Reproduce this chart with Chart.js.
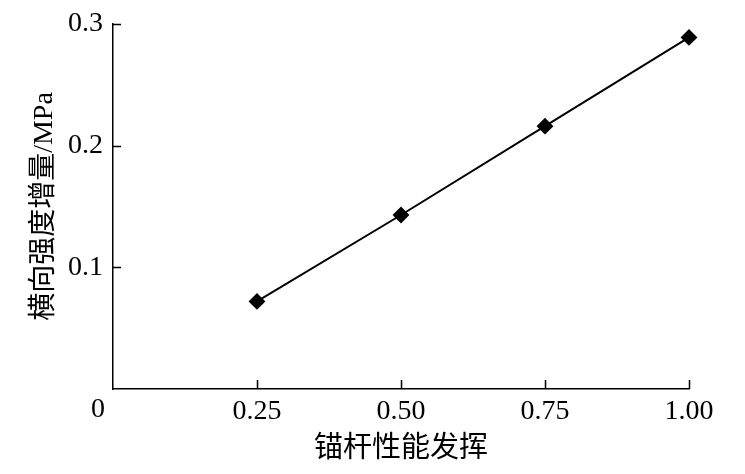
<!DOCTYPE html>
<html>
<head>
<meta charset="utf-8">
<script src="https://cdn.jsdelivr.net/npm/chart.js@4/dist/chart.umd.min.js"></script>
<style>
  html, body { margin: 0; padding: 0; background: #fff; }
  #wrap { width: 745px; height: 474px; }
</style>
</head>
<body>
<div id="wrap"><canvas id="chart"></canvas></div>
<script>
const xValues = [0.25, 0.50, 0.75, 1.00];
const yValues = [0.072, 0.143, 0.216, 0.289];
const xTicks = [0.25, 0.50, 0.75, 1.00];
const yTicks = [0.1, 0.2, 0.3];
const xTitle = '锚杆性能发挥';
const yTitle = '横向强度增量/MPa';

const fontFamily = '"Liberation Serif", "Noto Sans CJK SC", serif';

// inward tick marks and the shared "0" at the origin
const inwardTicks = {
    id: 'inwardTicks',
    afterDraw(chart) {
        const ctx = chart.ctx;
        const x = chart.scales.x;
        const y = chart.scales.y;
        const area = chart.chartArea;
        ctx.save();
        ctx.strokeStyle = '#000';
        ctx.lineWidth = 1.5;
        ctx.beginPath();
        xTicks.forEach(function (v) {
            const px = Math.round(x.getPixelForValue(v)) + 0.5;
            ctx.moveTo(px, area.bottom);
            ctx.lineTo(px, area.bottom - 9);
        });
        yTicks.forEach(function (v) {
            const py = Math.round(y.getPixelForValue(v)) + 0.5;
            ctx.moveTo(area.left, py);
            ctx.lineTo(area.left + 8, py);
        });
        ctx.stroke();
        ctx.fillStyle = '#000';
        ctx.font = '28px ' + fontFamily;
        ctx.textAlign = 'center';
        ctx.textBaseline = 'top';
        ctx.fillText('0', x.getPixelForValue(0) - 15, area.bottom + 7);
        ctx.restore();
    }
};

new Chart(document.getElementById('chart'), {
    type: 'line',
    data: {
        datasets: [{
            data: xValues.map(function (v, i) { return { x: v, y: yValues[i] }; }),
            borderColor: '#000',
            backgroundColor: '#000',
            borderWidth: 2,
            pointStyle: 'rectRot',
            pointRadius: 7,
            pointBackgroundColor: '#000',
            pointBorderColor: '#000',
            tension: 0,
            fill: false,
            clip: false
        }]
    },
    options: {
        responsive: true,
        maintainAspectRatio: false,
        animation: false,
        layout: { padding: { top: 24, right: 56, left: 0, bottom: 0 } },
        plugins: {
            legend: { display: false },
            tooltip: { enabled: false }
        },
        scales: {
            x: {
                type: 'linear',
                min: 0,
                max: 1,
                afterBuildTicks: function (scale) {
                    scale.ticks = [0].concat(xTicks).map(function (v) { return { value: v }; });
                },
                afterFit: function (scale) { scale.height = 85; },
                ticks: {
                    color: '#000',
                    padding: 6,
                    maxRotation: 0,
                    font: { family: fontFamily, size: 28 },
                    callback: function (v) { return v === 0 ? '' : v.toFixed(2); }
                },
                grid: { display: false, drawTicks: false, tickLength: 0 },
                border: { display: true, color: '#000', width: 1.5 },
                title: {
                    display: true,
                    text: xTitle,
                    color: '#000',
                    padding: { top: 0, bottom: 7 },
                    font: { family: fontFamily, size: 29 }
                }
            },
            y: {
                type: 'linear',
                min: 0,
                max: 0.3,
                afterBuildTicks: function (scale) {
                    scale.ticks = [0].concat(yTicks).map(function (v) { return { value: v }; });
                },
                afterFit: function (scale) { scale.width = 113; },
                ticks: {
                    color: '#000',
                    padding: 10,
                    font: { family: fontFamily, size: 28, lineHeight: 1 },
                    callback: function (v) { return v === 0 ? '' : v.toFixed(1); }
                },
                grid: { display: false, drawTicks: false, tickLength: 0 },
                border: { display: true, color: '#000', width: 1.5 },
                title: {
                    display: true,
                    text: yTitle,
                    color: '#000',
                    padding: { top: 28, bottom: 0 },
                    font: { family: fontFamily, size: 28 }
                }
            }
        }
    },
    plugins: [inwardTicks]
});
</script>
</body>
</html>
